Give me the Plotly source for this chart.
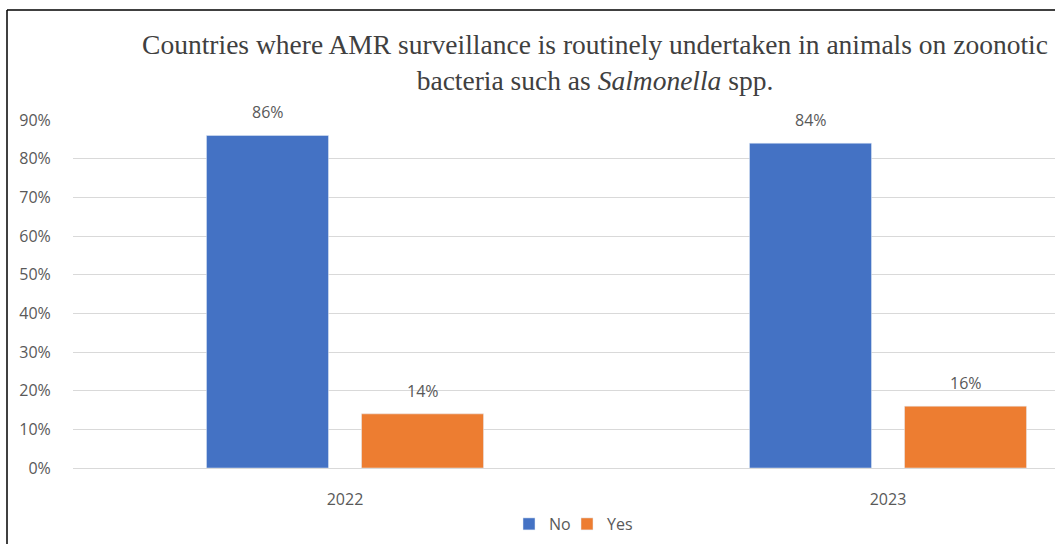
import plotly.graph_objects as go

categories = ["2022", "2023"]
no_values = [0.86, 0.84]
yes_values = [0.14, 0.16]
no_labels = ["86%", "84%"]
yes_labels = ["14%", "16%"]
y_ticks = [0, 0.1, 0.2, 0.3, 0.4, 0.5, 0.6, 0.7, 0.8, 0.9]
y_tick_labels = ["0%", "10%", "20%", "30%", "40%", "50%", "60%", "70%", "80%", "90%"]

W, H = 1055, 544
L, T, B = 73, 120, 468
ph = B - T
pw = W - L

FONT = "Open Sans, Liberation Sans, sans-serif"
label_font = dict(family=FONT, size=16, color="#595959")

fig = go.Figure()
fig.add_trace(go.Bar(x=categories, y=no_values, name="No", marker_color="#4472C4", legend="legend"))
fig.add_trace(go.Bar(x=categories, y=yes_values, name="Yes", marker_color="#ED7D31", legend="legend2"))

# category spacing ~543px, slot per bar ~155px
slot = 155
for vals, labs, shift in [(no_values, no_labels, -slot / 2), (yes_values, yes_labels, slot / 2)]:
    for i, (v, t) in enumerate(zip(vals, labs)):
        fig.add_annotation(x=i, y=v, text=t, showarrow=False, xshift=shift, yshift=23,
                           font=label_font, xanchor="center", yanchor="middle")

x_left = (L - 345) / 543
x_right = (W - 345) / 543

def px_x(px):
    return (px - L) / pw

def px_y(py):
    return (B - py) / ph

legend_common = dict(orientation="h", xanchor="left", y=px_y(507), yanchor="top",
                     font=dict(family=FONT, size=16, color="#595959"), itemwidth=30,
                     bgcolor="rgba(0,0,0,0)")

fig.update_layout(
    width=W, height=H,
    margin=dict(l=L, r=0, t=T, b=H - B, pad=0),
    paper_bgcolor="white", plot_bgcolor="white",
    barmode="group", bargap=0.429, bargroupgap=0.213,
    title=dict(text="Countries where AMR surveillance is routinely undertaken in animals on zoonotic<br>bacteria such as <i>Salmonella</i> spp.",
               font=dict(family="Liberation Serif, serif", size=27.5, color="#404040"),
               x=595 / W, xanchor="center", xref="container",
               y=1 - 54 / H, yanchor="top", yref="container"),
    showlegend=True,
    legend=dict(x=px_x(509), **legend_common),
    legend2=dict(x=px_x(567), **legend_common),
    xaxis=dict(type="category", range=[x_left, x_right], showgrid=False, showline=True,
               linecolor="#d9d9d9", linewidth=1, ticks="outside", ticklen=17, tickcolor="rgba(0,0,0,0)",
               tickfont=dict(family=FONT, size=16, color="#595959")),
    yaxis=dict(range=[0, 0.9], tickvals=y_ticks, ticktext=y_tick_labels, showgrid=True,
               gridcolor="#d9d9d9", gridwidth=1, zeroline=False, showline=False,
               ticks="outside", ticklen=18, tickcolor="rgba(0,0,0,0)",
               tickfont=dict(family=FONT, size=16, color="#595959")),
    shapes=[
        dict(type="line", xref="paper", yref="paper", x0=px_x(7), x1=px_x(W + 5), y0=px_y(10), y1=px_y(10),
             line=dict(color="black", width=1.5)),
        dict(type="line", xref="paper", yref="paper", x0=px_x(7), x1=px_x(7), y0=px_y(10), y1=px_y(H + 5),
             line=dict(color="black", width=1.5)),
    ],
)

fig.write_html("out.html")
